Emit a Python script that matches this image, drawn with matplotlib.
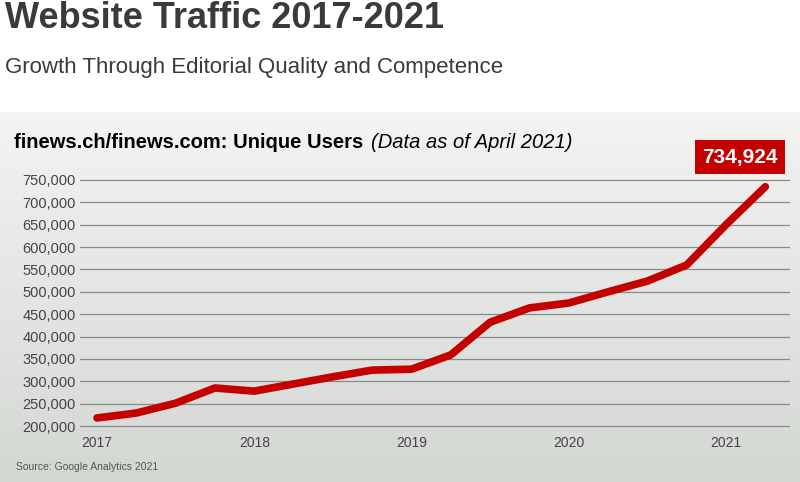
import numpy as np
import matplotlib.pyplot as plt

# Quartalswerte (aus dem Bild geschaetzt)
quartale = [2017.0, 2017.25, 2017.5, 2017.75, 2018.0, 2018.25, 2018.5, 2018.75,
            2019.0, 2019.25, 2019.5, 2019.75, 2020.0, 2020.25, 2020.5, 2020.75,
            2021.0, 2021.25]
nutzer = [218000, 229000, 251000, 285000, 278000, 294000, 310000, 325000,
          327000, 359000, 432000, 464000, 475000, 500000, 524000, 560000,
          650000, 734924]
jahre = [2017, 2018, 2019, 2020, 2021]
y_ticks = list(range(200000, 750001, 50000))

W, H = 800, 482
fig = plt.figure(figsize=(W / 100, H / 100), dpi=100)

# Hintergrund mit Verlauf
bg = fig.add_axes([0, 0, 1, 1 - 112 / H])
grad = np.linspace(0, 1, 256).reshape(-1, 1)
bg.imshow(grad, aspect='auto', extent=[0, 1, 0, 1], origin='upper',
          cmap=plt.matplotlib.colors.LinearSegmentedColormap.from_list('g', ['#f4f4f3', '#d3d7d2']))
bg.axis('off')

fig.text(5 / W, 1 - 18 / H, 'Website Traffic 2017-2021', fontsize=26, fontweight='bold',
         color='#3a3a3a', va='center', family='Liberation Sans')
fig.text(5 / W, 1 - 68 / H, 'Growth Through Editorial Quality and Competence', fontsize=16,
         color='#3a3a3a', va='center', family='Liberation Sans')
fig.text(14 / W, 1 - 142 / H, 'finews.ch/finews.com: Unique Users ', fontsize=14.5,
         fontweight='bold', va='center', family='Liberation Sans')
fig.text(371 / W, 1 - 142 / H, '(Data as of April 2021)', fontsize=14.5, style='italic',
         va='center', family='Liberation Sans')
fig.text(16 / W, 1 - 467 / H, 'Source: Google Analytics 2021', fontsize=7.5,
         color='#555555', va='center', family='Liberation Sans')

x0, x1 = 80 / W, 790 / W
y_bot, y_top = 1 - 428 / H, 1 - 178 / H
ax = fig.add_axes([x0, y_bot, x1 - x0, y_top - y_bot])
ax.patch.set_alpha(0)
ax.plot(quartale, nutzer, color='#c40000', lw=5.5, solid_capstyle='round', zorder=3)

# x-Achse: 2017 bei px 97, 2021 bei px 726
px_per_year = (726 - 97) / 4
xmin = 2017 - (97 - 80) / px_per_year
xmax = 2017 + (790 - 97) / px_per_year
ax.set_xlim(xmin, xmax)
units_per_px = 550000 / 246
ax.set_ylim(200000 - 2 * units_per_px, 750000 + 2 * units_per_px)
ax.set_yticks(y_ticks)
ax.set_yticklabels([f'{v:,}' for v in y_ticks])
ax.set_xticks(jahre)
ax.set_xticklabels([str(j) for j in jahre])
ax.grid(axis='y', color='#8a8a8a', lw=0.9)
ax.set_axisbelow(True)
for s in ax.spines.values():
    s.set_visible(False)
ax.tick_params(length=0, labelsize=10, colors='#444444')
ax.tick_params(axis='y', labelsize=10.5, pad=3)
ax.tick_params(axis='x', pad=6)
for lab in ax.get_xticklabels() + ax.get_yticklabels():
    lab.set_family('Liberation Sans')

# Wert-Box fuer den letzten Punkt
fig.text(740 / W, 1 - 157 / H, f'{nutzer[-1]:,}', fontsize=15, fontweight='bold',
         color='white', ha='center', va='center', family='Liberation Sans',
         bbox=dict(boxstyle='square,pad=0.35', fc='#c40000', ec='none'))

fig.savefig('out.png', dpi=100)
